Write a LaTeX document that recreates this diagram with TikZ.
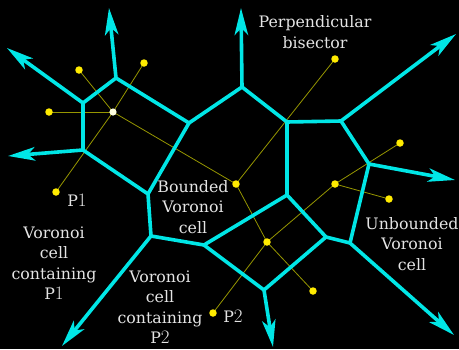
\documentclass[tikz,border=0pt]{standalone}
\usepackage{fontspec}
\newfontfamily\labfont{DejaVu Serif}
\usetikzlibrary{arrows.meta}
\definecolor{edgecyan}{RGB}{0,230,230}
\definecolor{dotyellow}{RGB}{255,235,0}
\definecolor{centerwhite}{RGB}{255,255,225}
\definecolor{thinyellow}{RGB}{150,150,0}
\definecolor{labgray}{RGB}{228,228,228}
\newcommand{\osn}[1]{{\normalfont\fontsize{19}{20.5}\selectfont\oldstylenums{#1}}}
\begin{document}
\begin{tikzpicture}[x=1pt,y=-1pt,
  edge/.style={draw=edgecyan,line width=3.6pt,line join=round,line cap=round},
  ray/.style={edge,line cap=butt,-{Stealth[length=27pt,width=13.5pt,inset=7pt]}},
  bis/.style={draw=thinyellow,line width=0.8pt},
  site/.style={circle,inner sep=0pt,minimum size=7.5pt},
  lab/.style={text=labgray,font=\labfont\fontsize{15.8}{20.5}\selectfont,align=center,inner sep=0pt}]
\fill[black] (0,0) rectangle (459,349);
\useasboundingbox (0,0) rectangle (459,349);
% Voronoi vertices
\coordinate (A) at (83,103);
\coordinate (B) at (116,78);
\coordinate (C) at (83,150);
\coordinate (D) at (148,194);
\coordinate (E) at (189,123);
\coordinate (F) at (242,87);
\coordinate (G) at (287,122);
\coordinate (H) at (341,121);
\coordinate (I) at (369,164);
\coordinate (J) at (350,243);
\coordinate (K) at (326,237);
\coordinate (L) at (287,195);
\coordinate (M) at (204,245);
\coordinate (N) at (151,236);
\coordinate (O) at (264,290);
% ray ends
\coordinate (rA) at (7,48);
\coordinate (rB) at (109,8);
\coordinate (rC) at (8,156);
\coordinate (rF) at (241,8);
\coordinate (rH) at (456,34);
\coordinate (rI) at (455,180);
\coordinate (rJ) at (454,335);
\coordinate (rN) at (62,346);
\coordinate (rO) at (273,347);
% sites (positions)
\node[site] (s0) at (113,112) {};
\node[site] (s1) at (79,70) {};
\node[site] (s2) at (144,63) {};
\node[site] (s3) at (49,112) {};
\node[site] (p1) at (56,192) {};
\node[site] (s5) at (335,59) {};
\node[site] (s6) at (400,143) {};
\node[site] (s7) at (335,184) {};
\node[site] (s8) at (389,199) {};
\node[site] (s9) at (236,184) {};
\node[site] (s10) at (267,242) {};
\node[site] (s11) at (313,291) {};
\node[site] (p2) at (213,313) {};
% thin connections (behind)
\draw[bis] (s0.center) -- (s1.center);
\draw[bis] (s0.center) -- (s2.center);
\draw[bis] (s0.center) -- (s3.center);
\draw[bis] (s0.center) -- (p1.center);
\draw[bis] (s0.center) -- (s9.center);
\draw[bis] (s9.center) -- (s5.center);
\draw[bis] (s9.center) -- (s10.center);
\draw[bis] (s10.center) -- (s11.center);
\draw[bis] (s10.center) -- (s7.center);
\draw[bis] (s7.center) -- (s6.center);
\draw[bis] (s7.center) -- (s8.center);
\draw[bis] (s10.center) -- (p2.center);
% edges
\draw[edge] (C) -- (A) -- (B) -- (E) -- (D) -- (C);
\draw[edge] (D) -- (N) -- (M) -- (L) -- (G) -- (F) -- (E);
\draw[edge] (G) -- (H) -- (I) -- (J) -- (K) -- (L);
\draw[edge] (M) -- (O) -- (K);
% rays
\draw[ray] (A) -- (rA);
\draw[ray] (B) -- (rB);
\draw[ray] (C) -- (rC);
\draw[ray] (F) -- (rF);
\draw[ray] (H) -- (rH);
\draw[ray] (I) -- (rI);
\draw[ray] (J) -- (rJ);
\draw[ray] (N) -- (rN);
\draw[ray] (O) -- (rO);
% site dots on top
\foreach \n in {s1,s2,s3,p1,s5,s6,s7,s8,s9,s10,s11,p2}{\fill[dotyellow] (\n) circle (3.75pt);}
\fill[centerwhite] (s0) circle (3.6pt);
% labels
\node[lab] (tperp) at (315,32) {Perpendicular\\bisector};
\node[lab] (tp1) at (77,200) {P\osn{1}};
\node[lab] (tc1) at (54,263) {Voronoi\\cell\\containing\\P\osn{1}};
\node[lab] (tb) at (193,207) {Bounded\\Voronoi\\cell};
\node[lab] (tc2) at (160,307) {Voronoi\\cell\\containing\\P\osn{2}};
\node[lab] (tp2) at (233,316) {P\osn{2}};
\node[lab] (tu) at (412,244) {Unbounded\\Voronoi\\cell};
\end{tikzpicture}
\end{document}
